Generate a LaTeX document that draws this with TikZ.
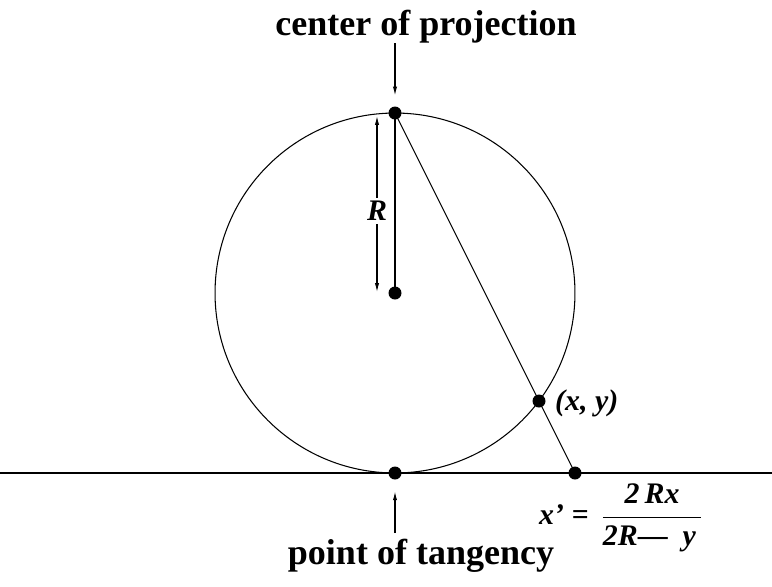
\documentclass[tikz,border=0pt]{standalone}
\usepackage{fontspec}
\setmainfont{Liberation Serif}
\usetikzlibrary{arrows.meta}
\begin{document}
\begin{tikzpicture}[x=0.02cm,y=-0.02cm,
    thinline/.style={line width=0.6pt},
    tip/.style={-{Latex[length=5pt,width=2.4pt]}},
    title/.style={font=\fontsize{20.5}{24}\selectfont\bfseries,inner sep=0pt},
    mathlbl/.style={font=\fontsize{17}{20}\selectfont\bfseries\itshape}]
  \useasboundingbox (0,0) rectangle (772,586);
  % points of the figure
  \coordinate (top) at (395,113);
  \coordinate (ctr) at (395,293);
  \coordinate (tan) at (395,473);
  \coordinate (pt) at (539,401);
  \coordinate (proj) at (575,473);
  \coordinate (left) at (0,473);
  \coordinate (right) at (772,473);
  \coordinate (dimtop) at (377,116);
  \coordinate (dimbot) at (377,292);
  \draw[line width=0.9pt] (left) -- (right);
  \draw[thinline] (ctr) circle[radius=3.6cm];
  \draw[thinline] (top) -- (ctr);
  \draw[thinline] (top) -- (proj);
  \foreach \p in {top,ctr,tan,pt,proj}{
    \fill (\p) circle (0.13cm);
  }
  \draw[thinline,{Latex[length=5pt,width=2.4pt]}-{Latex[length=5pt,width=2.4pt]}]
    (dimtop) -- node[pos=0.54,mathlbl,fill=white,inner sep=2pt] (rlbl) {R} (dimbot);
  % labels
  \node[title,anchor=base] (cop) at (426,35) {center of projection};
  \node[title,anchor=base] (pot) at (421,564) {point of tangency};
  \draw[thinline,tip,shorten >=10pt] (cop.south -| top) -- (top);
  \draw[thinline,tip,shorten <=3pt,shorten >=10.5pt] (pot.north -| tan) -- (tan);
  \node[mathlbl,anchor=west] (ptlbl) at (549,403) {(x, y)};
  \node[mathlbl,anchor=west] (eqn) at (533,518)
    {x’ =\hspace{7pt}$\displaystyle\frac{\hbox{\bfseries 2\,\itshape Rx}}{\hbox{\bfseries 2\itshape R\upshape—\enspace\itshape y\hspace{3pt}}}$};
\end{tikzpicture}
\end{document}
